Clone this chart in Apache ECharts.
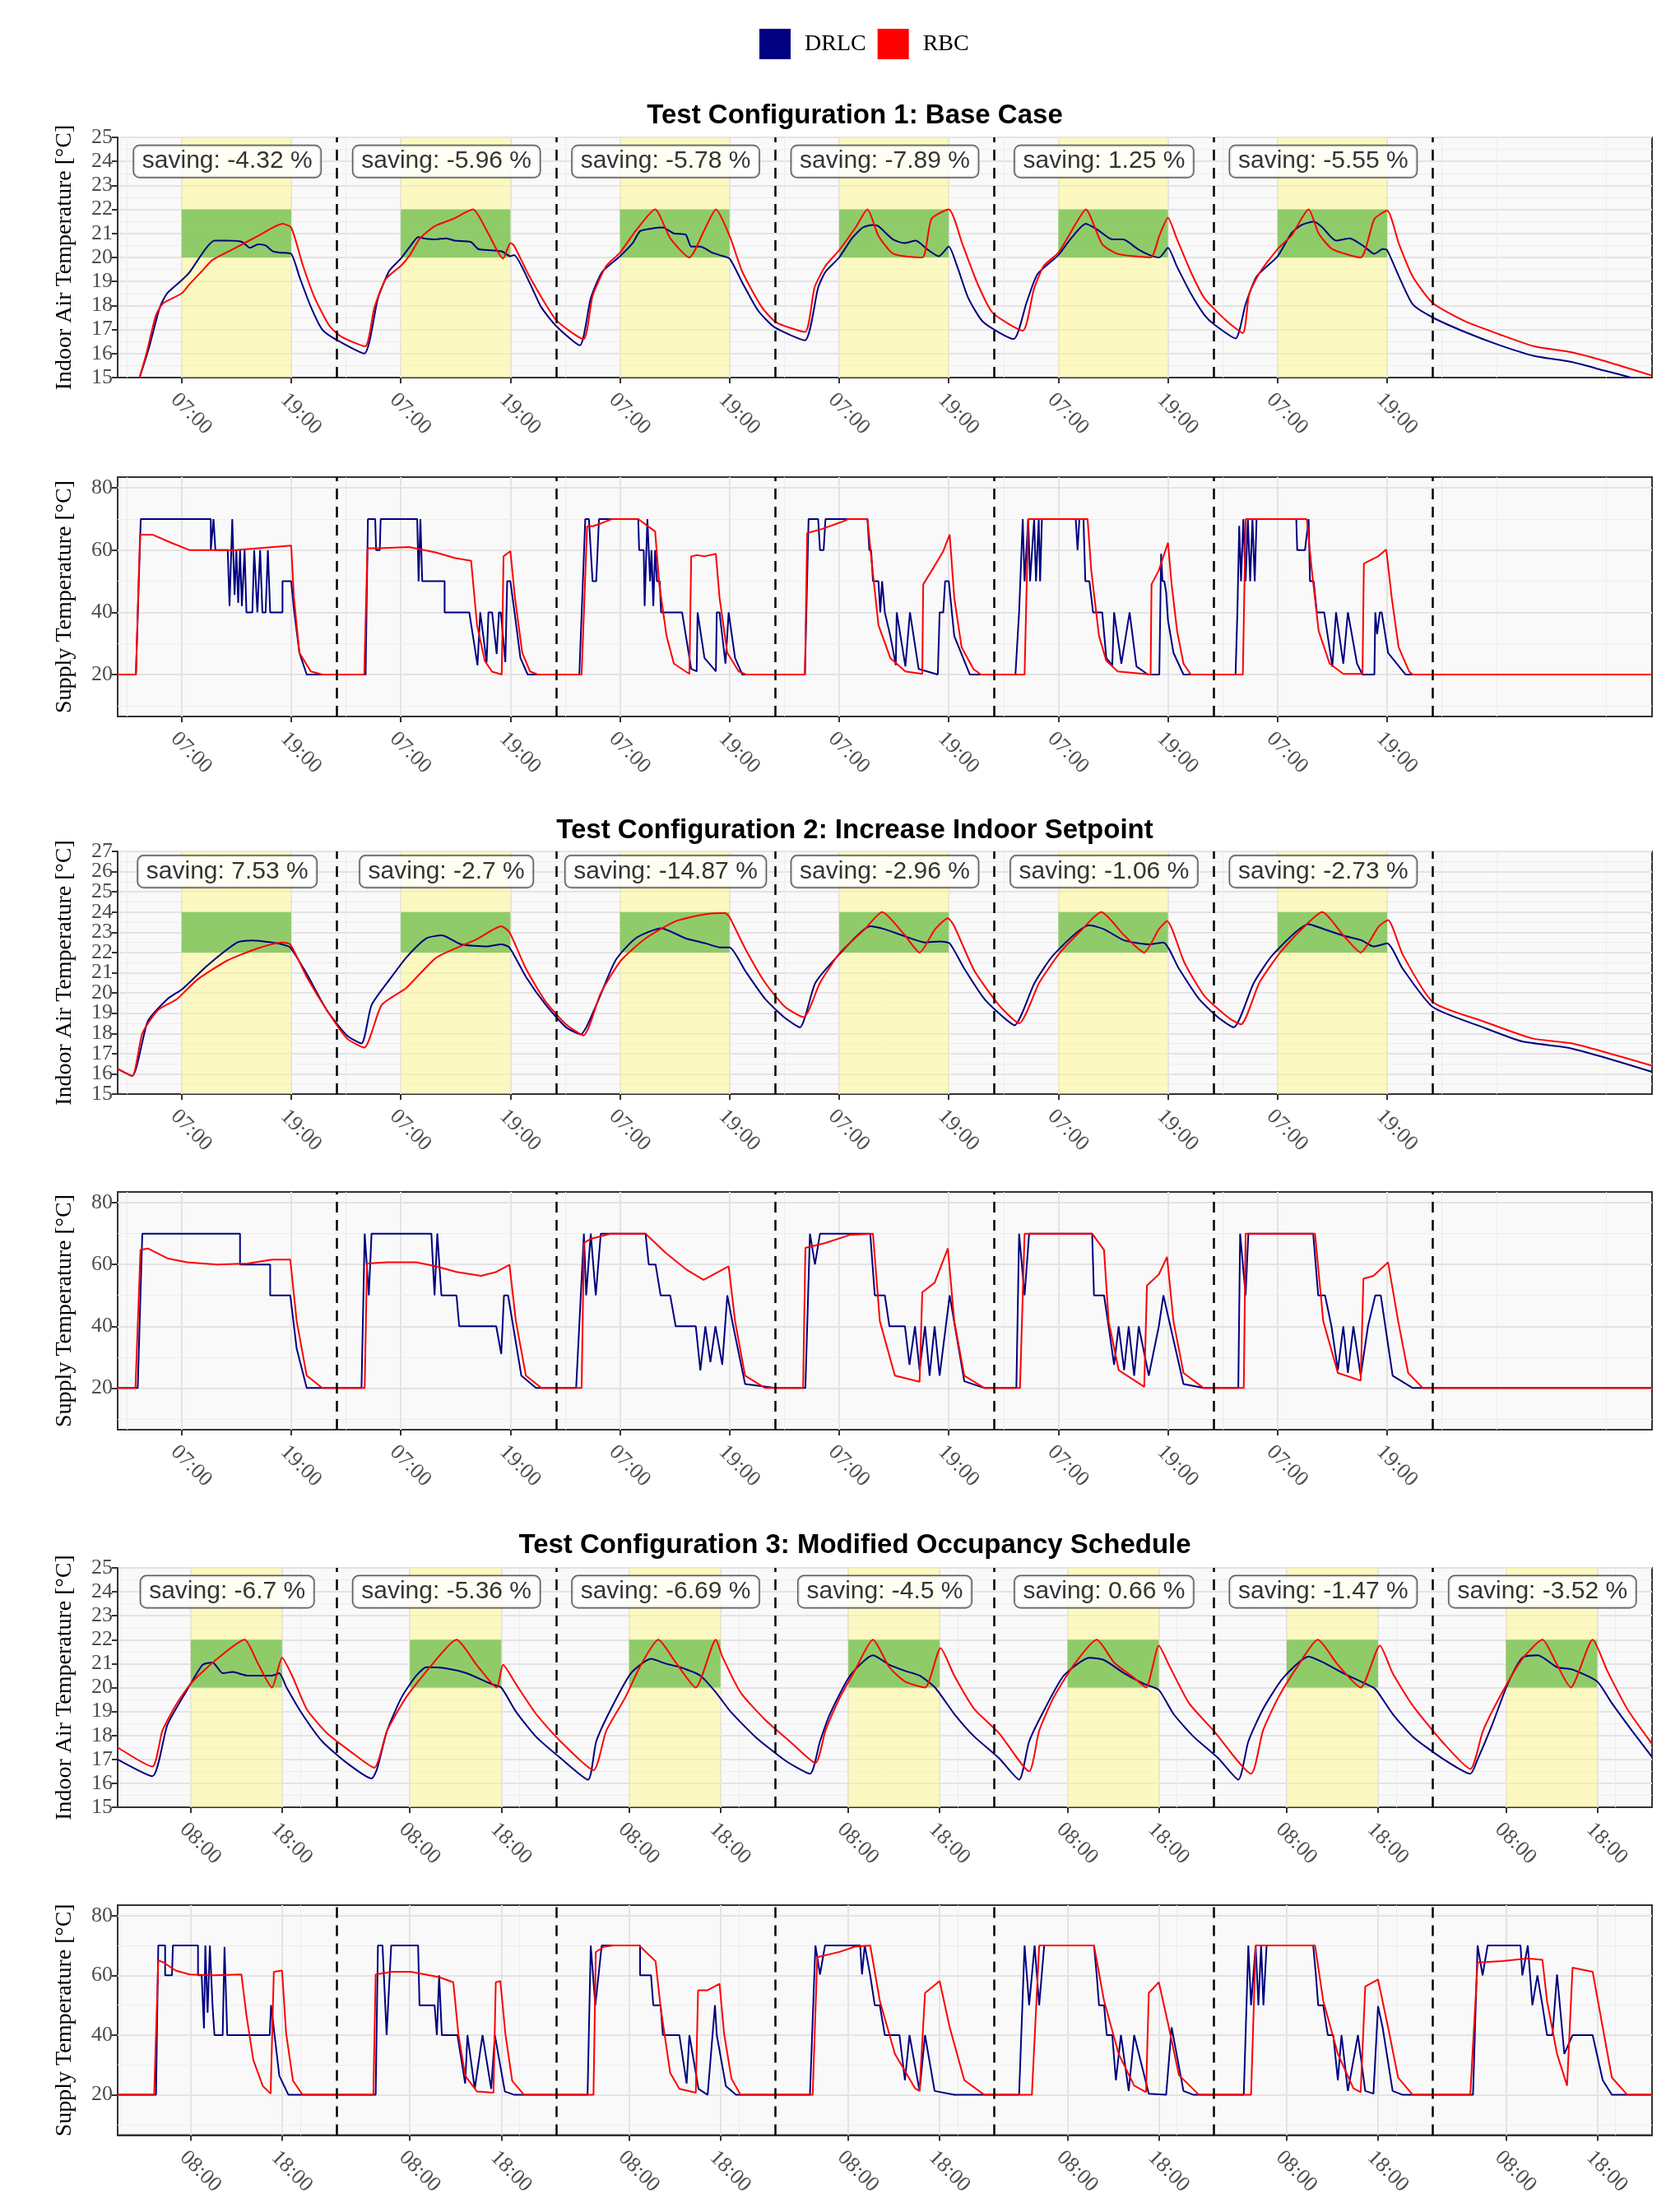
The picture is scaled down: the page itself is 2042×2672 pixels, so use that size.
<!DOCTYPE html>
<html lang="en">
<head>
    <meta charset="UTF-8">
    <title>DRLC vs RBC</title>
    <script src="https://cdn.jsdelivr.net/npm/echarts@6/dist/echarts.min.js"></script>
    <style>body{margin:0;background:#fff;}</style>
</head>
<body>
    <div id="main" style="width: 2042px;height:2672px;"></div>
    <script type="text/javascript">
        // hours since start of week, values in degC

        // ---- Test configuration 1 ----
        const c1InDRLC = [[2.4,15],[3.4,16.2],[4.6,17.9],[5.4,18.5],[7,19.05],[7.9,19.4],[9.6,20.35],[10.6,20.7],[12,20.7],[13.6,20.65],[14.5,20.4],[15.4,20.55],[16.2,20.5],[17,20.25],[17.8,20.2],[19,20.15],[19.9,19.2],[21.15,17.95],[22.4,17.0],[24.05,16.55],[27.0,16.0],
            [28.5,18.3],[29.75,19.45],[31,19.95],[32,20.45],[32.9,20.85],[33.5,20.8],[34.8,20.75],[36,20.8],[36.9,20.7],[38.65,20.65],[39.5,20.35],[40.9,20.3],[42.1,20.25],[43,20.05],[43.4,20.1],[45.1,18.95],[46.35,17.95],[48,17.15],[50.6,16.34],
            [51.8,18.3],[53.05,19.4],[55,20.05],[56.4,20.6],[57.2,21.1],[58.4,21.2],[59.7,21.25],[60.9,21.0],[62.2,20.95],[62.8,20.45],[63.8,20.45],[65.1,20.2],[65.9,20.1],[67,19.95],[68.4,18.95],[70.1,17.8],[71.9,17.1],[75.25,16.55],
            [76.7,18.75],[77.5,19.4],[79,20.0],[80.4,20.8],[81.6,21.25],[82.65,21.35],[83.3,21.3],[84.9,20.75],[86.1,20.6],[87.4,20.7],[88.6,20.35],[89.9,20.05],[91,20.45],[91.9,19.65],[93.15,18.3],[94.8,17.3],[98.1,16.6],
            [99.5,18.1],[100.7,19.3],[103,20.1],[104.4,20.8],[106,21.4],[107.3,21.15],[108.9,20.75],[110.1,20.75],[111.7,20.35],[113,20.1],[114.05,20.0],[115,20.4],[115.95,19.65],[117.5,18.5],[119,17.6],[120.1,17.2],[122.4,16.63],
            [123.5,18.05],[124.7,19.2],[127,20.05],[128.5,21.0],[129.6,21.35],[131,21.5],[131.9,21.25],[133.4,20.7],[134.9,20.8],[136.5,20.45],[137.6,20.15],[138.5,20.35],[139,20.3],[140.3,19.2],[141.8,18.05],[144,17.5],[147.5,16.9],[151.3,16.35],[155.1,15.9],[159.2,15.65],[162.7,15.3],[165.7,15.0],[166.5,14.9]];
        const c1InRBC = [[2.4,15],[3.15,16.0],[4.2,17.6],[5.0,18.1],[7,18.5],[7.9,18.9],[9.15,19.4],[10.4,19.9],[12.9,20.4],[15.4,20.9],[18.05,21.4],[19,21.25],[20.3,19.65],[21.6,18.3],[23.2,17.15],[24.5,16.7],[27.1,16.3],
            [28.1,17.9],[29.35,19.1],[31,19.65],[32,20.1],[33.1,20.8],[34.7,21.3],[36.7,21.6],[38.9,22.0],[40.5,21.05],[42.2,19.95],[43,20.6],[43.4,20.5],[45.1,19.2],[48,17.4],[51,16.6],
            [52,18.4],[53.5,19.65],[55,20.2],[56.8,21.15],[58.85,22.0],[60.5,20.8],[62.6,20.0],[64.25,21.15],[65.5,22.0],[67,20.9],[68.4,19.4],[70.5,17.95],[72.1,17.3],[75.25,16.9],
            [76.3,18.75],[77.5,19.65],[79,20.3],[80.8,21.25],[82.1,22.0],[83.3,20.9],[84.95,20.15],[88.1,20.0],[89.1,21.6],[91,22.0],[92.5,20.55],[94.1,18.95],[95.8,17.7],[99.1,16.95],
            [100.3,18.65],[101.4,19.65],[103,20.2],[104.9,21.4],[106,22.0],[107.8,20.55],[109.5,20.15],[113.1,20.0],[114.05,20.9],[115,21.65],[115.95,20.8],[117.5,19.4],[119,18.3],[121.3,17.4],[123.2,16.85],
            [123.9,18.5],[125.1,19.4],[127,20.35],[128.5,20.9],[130.4,22.0],[131.5,21.0],[133,20.35],[136.1,20.0],[137.6,21.6],[139,21.95],[140.3,20.55],[141.8,19.2],[144,18.1],[147.5,17.35],[151.3,16.8],[155.1,16.3],[159.2,16.05],[162.7,15.7],[168,15.08]];
        const c1SupDRLC = [[0,20],[2.0,20],[2.53,70],[10.2,70],[10.2,60],[10.5,70],[10.7,60],[12.05,60],[12.25,42],[12.55,70],[12.8,45.6],[13,60],[13.2,43],[13.4,60],[13.6,42],[13.9,60],[14.1,40],[14.75,40],[14.95,60],[15.3,40],[15.6,60],[15.85,40],[16.2,40],[16.45,60],[16.7,40],[18.05,40],[18.05,50],[19,50],[19.3,41],[19.9,27],[20.7,20],
            [27.15,20],[27.4,70],[28.2,70],[28.3,60],[28.7,60],[28.8,70],[32.8,70],[32.95,50],[33.15,70],[33.35,50],[35.8,50],[35.8,40],[38.5,40],[39.4,23],[39.7,40],[40.4,24],[40.6,40],[41,40],[41.5,26.6],[41.75,40],[41.95,40],[42.45,24],[42.65,50],[43,50],[43.5,39],[44.1,25.3],[44.9,20],
            [50.55,20],[51.2,70],[51.6,70],[52,50],[52.4,50],[52.7,70],[57,70],[57.1,60],[57.6,60],[57.7,42],[58,70],[58.3,50],[58.45,60],[58.65,42],[58.85,60],[59.05,50],[59.35,50],[59.5,40],[61.8,40],[62.8,21.8],[63.4,21],[63.5,40],[64.25,25.3],[65.5,21],[65.6,40],[65.9,40],[66.55,23.5],[66.9,40],[67.6,25.3],[68.4,20],
            [75.25,20],[75.65,70],[76.7,70],[76.9,60],[77.3,60],[77.5,70],[82.1,70],[82.3,60],[82.5,60],[82.7,50],[83.3,50],[83.5,40],[83.7,50],[84,40],[84.6,32.4],[85.2,23],[85.3,40],[86.25,22.6],[86.75,40],[87.7,21.8],[89.8,20],[90,40],[90.4,40],[90.6,50],[91,50],[91.6,32.4],[93.3,20],
            [98.3,20],[98.7,40],[99.1,70],[99.3,50],[99.7,70],[99.9,50],[100.35,70],[100.55,50],[100.85,70],[101,50],[101.2,70],[104.9,70],[105.1,60],[105.3,70],[105.75,70],[105.95,50],[106.4,50],[106.8,40],[107.8,40],[108.25,25.3],[108.9,23],[109.1,40],[109.9,23.5],[110.8,40],[111.55,22.6],[112.8,20],[114.05,20],[114.25,58.8],[114.4,50],[114.6,50],[114.8,46.5],[115,37.5],[115.6,27],[116.7,20],
            [122.4,20],[122.6,40],[122.8,67.8],[123,50],[123.25,70],[123.5,50],[123.75,70],[124,50],[124.25,70],[124.5,50],[124.7,70],[129.05,70],[129.15,60],[130,60],[130.4,70],[130.55,50],[130.95,50],[131.3,40],[132.1,40],[133,22.5],[133.4,40],[134.2,23.5],[134.7,40],[135.7,23.5],[136.3,20],[137.6,20],[137.7,40],[137.9,33],[138.2,40],[138.4,40],[139.1,27],[141,20],[168,20]];
        const c1SupRBC = [[0,20],[2.0,20],[2.45,65],[3.8,65],[5.85,62.4],[7.9,60],[12.9,60],[16.2,60.8],[19,61.5],[19.3,44.7],[19.9,27],[21.15,21],[22.4,20],
            [27.0,20],[27.35,60.6],[28.6,60.6],[31.9,61],[34.8,59.3],[36.9,57.5],[38.7,56.6],[39.35,35.9],[40.2,24.4],[41,20.9],[42.05,20],[42.25,58],[43,59.7],[43.5,44.7],[44.3,27],[45.15,21],[46,20],
            [50.8,20],[51.4,67.7],[52,67.7],[53,68.7],[54.1,70],[57,70],[58.85,66],[59.3,49.1],[60.1,32.4],[60.9,23.5],[62.6,20.2],[62.8,58],[63.4,58.4],[64.25,58],[65.5,58.8],[65.9,44.7],[66.75,27],[68,21],[68.8,20],
            [75.25,20],[75.5,65.5],[77.1,66.8],[79.2,69],[80,70],[82.1,70],[82.5,58],[83.3,35.9],[84.6,25.3],[86.25,21],[88.1,20.2],[88.2,49],[89.15,53.5],[90.4,59.7],[91.1,65],[91.6,44.7],[92.4,28.8],[93.7,21.8],[94.5,20],
            [99.3,20],[99.7,70],[106.2,70],[106.6,53.5],[107.45,32.4],[108.25,24.4],[109.5,21],[113.1,20],[113.2,49],[114,53.5],[115,62.4],[115.4,49],[116,34],[116.7,23.5],[117.5,20],
            [123.2,20],[123.5,70],[130.2,70],[130.75,53.5],[131.5,34],[132.7,23.5],[134.2,20.2],[136.3,20.2],[136.45,55.7],[138,58],[138.9,60.2],[139.5,44.7],[140.25,28.8],[141.4,21],[141.8,20],[168,20]];

        // ---- Test configuration 2 ----
        const c2InDRLC = [[0,16.25],[1.6,15.9],[3.3,18.6],[5.45,19.7],[7.1,20.2],[9.8,21.35],[13.1,22.5],[14.7,22.6],[16.9,22.5],[18,22.4],[18.9,22.25],[20.7,20.95],[22.9,19.15],[25.1,17.9],[26.7,17.5],
            [27.8,19.4],[30,20.8],[31.6,21.75],[33.8,22.7],[35.5,22.85],[37.6,22.4],[40.4,22.3],[42,22.4],[42.9,22.25],[44.7,20.8],[46.9,19.4],[49.1,18.3],[50.7,17.95],
            [52.4,19.4],[54.5,21.6],[56.7,22.7],[59.5,23.2],[62.2,22.7],[64.4,22.45],[66,22.25],[67,22.25],[68.7,21.1],[70.9,19.7],[73.1,18.75],[74.7,18.3],
            [76.4,20.5],[79.1,21.95],[82.4,23.3],[84,23.15],[86.2,22.8],[88.4,22.5],[90,22.55],[91.1,22.45],[92.7,21.2],[94.9,19.7],[97.1,18.75],[98.2,18.4],
            [100.4,20.5],[102.5,21.9],[106.4,23.35],[108,23.15],[110.2,22.6],[112.9,22.4],[114.5,22.5],[116.2,21.2],[118.4,19.7],[120.6,18.75],[122.2,18.3],
            [124.4,20.5],[126.5,21.9],[130.4,23.4],[131.5,23.25],[134.1,22.85],[136.2,22.6],[137.5,22.3],[139,22.45],[140.7,21.2],[144,19.3],[149.5,18.3],[153.8,17.6],[158.7,17.3],[162.5,16.85],[168,16.1]];
        const c2InRBC = [[0,16.25],[1.6,15.9],[2.7,18.0],[4.4,19.15],[6.5,19.7],[8.7,20.65],[12,21.6],[15.3,22.2],[18,22.5],[18.9,22.4],[20.7,20.8],[22.9,19.15],[25.1,17.75],[27,17.3],
            [28.9,19.4],[31.6,20.25],[34.9,21.75],[39.3,22.65],[42,23.3],[42.9,23.0],[44.7,21.2],[46.9,19.55],[49.1,18.45],[51,17.9],
            [52.9,20.0],[55.1,21.6],[57.8,22.7],[61.1,23.55],[64.4,23.9],[66.5,23.95],[67,23.75],[68.7,22.2],[70.9,20.5],[73.1,19.3],[75.1,18.8],
            [76.9,20.5],[79.1,22.0],[81.8,23.15],[83.7,24.0],[86.2,22.85],[87.8,22.0],[89.5,23.15],[90.9,23.7],[91.6,23.3],[93.8,21.1],[96.5,19.4],[98.7,18.5],
            [100.9,20.5],[103.1,21.95],[105.3,23.0],[107.7,24.0],[110.2,22.85],[112.4,22.0],[114,23.15],[114.9,23.55],[116.8,21.5],[119,19.85],[121.7,18.75],[123,18.45],
            [125,20.5],[127.2,21.95],[129.3,23.0],[131.9,24.0],[134.2,22.85],[136.1,22.0],[138.1,23.3],[139.1,23.6],[140.7,21.9],[144,19.55],[149.5,18.6],[154.9,17.75],[159.3,17.5],[168,16.4]];
        const c2SupDRLC = [[0,20],[2.2,20],[2.7,70],[13.4,70],[13.4,60],[16.7,60],[16.7,50],[18.9,50],[19.6,32.8],[20.7,20],
            [26.7,20],[27.05,70],[27.5,50],[27.8,70],[34.35,70],[34.7,50],[35,70],[35.45,50],[37.1,50],[37.4,40],[41.2,40],[41.45,40],[42,31],[42.3,50],[42.75,50],[44.2,24],[45.8,20],
            [50.2,20],[51.05,70],[51.3,50],[51.8,70],[52.35,50],[52.9,70],[57.8,70],[58.15,60],[58.9,60],[59.45,50],[60.5,50],[61.1,40],[63.3,40],[63.8,25.7],[64.35,40],[64.9,28.4],[65.45,40],[66.2,27.5],[66.75,50],[67.4,40],[68.7,21.3],[72,20],
            [75.3,20],[75.8,70],[76.35,60],[76.9,70],[82.4,70],[82.9,50],[84,50],[84.5,40],[86.2,40],[86.7,27.5],[87.3,40],[87.8,25.8],[88.4,40],[88.9,24],[89.45,40],[90,24],[91.1,50],[92.7,22.2],[94.9,20],
            [98.4,20],[98.7,70],[99.3,50],[99.8,70],[106.7,70],[106.9,50],[108,50],[108.5,40],[109.1,27.5],[109.6,40],[110.2,25.8],[110.7,40],[111.3,24],[111.8,40],[112.9,24],[114,40],[114.5,50],[116.7,21.3],[118.9,20],
            [122.7,20],[122.9,70],[123.5,50],[123.8,70],[130.9,70],[131.45,50],[132.2,50],[132.9,40],[133.6,25.8],[134.2,40],[134.7,24.9],[135.3,40],[136.1,24],[136.9,40],[137.7,50],[138.3,50],[139.6,24],[141.8,20],[168,20]];
        const c2SupRBC = [[0,20],[1.95,20],[2.5,64.7],[3.3,65.2],[5.45,62],[7.6,60.7],[10.9,60],[14.2,60.3],[16.9,61.6],[18.9,61.6],[19.6,41.7],[20.7,24],[22.4,20],
            [27.05,20],[27.3,60.3],[29.5,60.7],[32.7,60.7],[34.9,59.4],[37.1,57.6],[39.8,56.3],[41.45,57.6],[42.9,59.9],[43.6,41.7],[44.7,24],[46.4,20],
            [50.8,20],[51.05,67],[51.8,68.3],[54,70],[57.8,70],[60,63.8],[62.2,58.5],[64.15,55],[66.9,59.4],[67.6,41.7],[68.7,24],[70.9,20],
            [75.05,20],[75.3,65.4],[77.5,67],[80.2,69.6],[82.7,70],[83.45,41.7],[85.1,24],[87.8,22],[88.1,51],[89.45,54.1],[90.9,65.2],[91.6,41.7],[92.7,24],[94.9,20],
            [98.8,20],[99.3,70],[106.7,70],[108,64.7],[108.5,41.7],[109.6,25.8],[112.4,20.4],[112.7,53.2],[114,56.8],[114.9,62.5],[115.6,41.7],[116.7,24.9],[118.9,20],
            [123.3,20],[123.5,70],[131.1,70],[132,41.7],[133.6,24.9],[136.1,22.4],[136.4,55.4],[137.5,56.3],[139.1,60.7],[140.2,41.7],[141.3,24.9],[142.9,20],[168,20]];

        // ---- Test configuration 3 ----
        const c3InDRLC = [[0,17.0],[3.8,16.3],[5.45,18.45],[7.6,19.9],[9.3,20.95],[10.4,21.05],[11.5,20.6],[12.6,20.65],[14.2,20.5],[16.9,20.5],[17.7,20.6],[18.5,20.0],[20.2,18.9],[22.4,17.75],[25.1,16.85],[27.8,16.2],
            [28.4,16.6],[29.5,18.2],[31.1,19.6],[32.7,20.5],[33.8,20.85],[36,20.8],[38.2,20.6],[40.9,20.15],[42,20.0],[43.6,19.0],[45.8,17.95],[48.5,17.05],[51.5,16.15],
            [52.4,17.75],[54,19.1],[56.2,20.6],[58.4,21.2],[60,21.0],[61.6,20.85],[63.8,20.5],[65.5,19.8],[67.1,19.0],[69.8,17.95],[73.1,16.95],[75.8,16.4],
            [76.9,17.75],[78,18.9],[80.2,20.5],[82.7,21.35],[84.5,20.95],[86.2,20.7],[87.8,20.5],[89.5,20.0],[91.6,18.9],[93.8,17.95],[96.5,17.05],[98.7,16.15],
            [99.8,17.75],[101.5,19.1],[103.6,20.5],[106.4,21.25],[108,21.15],[110.2,20.6],[112.4,20.15],[114,19.9],[115.6,18.9],[117.8,17.95],[120.5,17.05],[122.7,16.15],
            [123.8,17.75],[125.4,19.1],[127.6,20.4],[130.4,21.3],[132,21.05],[134.2,20.6],[137.5,20.0],[138,19.8],[139.6,18.9],[141.8,17.95],[145,17.05],[148.1,16.4],
            [148.9,17.0],[150.5,18.45],[152.2,20.15],[153.8,21.25],[155.5,21.35],[157.6,20.85],[159.3,20.75],[162,20.25],[163.6,19.35],[165.8,18.2],[168,17.1]];
        const c3InRBC = [[0,17.5],[3.8,16.7],[4.9,18.2],[6.5,19.35],[8.2,20.25],[10.9,21.2],[13.9,22.0],[15.3,21.05],[16.9,20.0],[18,21.25],[19.1,20.5],[20.7,19.1],[22.9,18.1],[25.6,17.3],[28.1,16.65],
            [29.5,18.2],[31.6,19.6],[34.4,20.95],[37.1,22.0],[39.3,20.95],[41.5,20.0],[42.2,20.95],[43.6,20.15],[45.8,18.9],[48.5,17.75],[52.1,16.55],
            [53.5,18.2],[55.6,19.6],[57.3,20.95],[59.2,22.0],[61.1,21.05],[63.3,20.0],[65.5,22.0],[66.2,21.3],[68.2,19.8],[70.9,18.65],[73.6,17.75],[76.4,16.85],
            [77.5,18.2],[79.1,19.6],[80.7,20.7],[82.7,22.0],[84.5,20.85],[86.2,20.25],[88.4,20.0],[90.1,21.65],[91.6,20.5],[93.8,19.1],[96.5,18.1],[99.8,16.5],
            [100.9,18.2],[102.5,19.6],[104.7,20.95],[107.2,22.0],[109.1,21.05],[111.3,20.4],[112.6,20.0],[114,21.75],[115.1,20.95],[117.3,19.35],[120,18.2],[124.1,16.4],
            [125.4,18.2],[127.1,19.6],[129.3,20.95],[131.4,22.0],[133.6,20.95],[136.1,20.0],[138.2,21.75],[139.6,20.6],[141.8,19.25],[145,17.75],[148.1,16.6],
            [149.5,18.2],[151.6,19.8],[153.8,21.2],[156,22.0],[157.6,20.95],[159.1,20.0],[161.5,22.0],[163.1,20.7],[165.3,19.1],[168,17.65]];
        const c3SupDRLC = [[0,20],[4.2,20],[4.45,70],[5.2,70],[5.2,60],[5.95,60],[6.05,70],[8.8,70],[8.8,60],[9.2,60],[9.45,42.3],[9.6,70],[9.85,47.5],[10.1,70],[10.4,49.3],[10.6,40],[11.5,40],[11.7,69.5],[12,40],[16.65,40],[16.8,50],[17.7,26.4],[18.7,20],
            [28.25,20],[28.5,70],[29,70],[29.45,40],[29.95,70],[32.9,70],[33.05,50],[34.7,50],[34.95,40],[35.2,60],[35.5,40],[37.2,40],[38.05,23.8],[38.3,40],[39.1,22],[39.95,40],[40.9,22],[41.3,40],[42.4,21.1],[43.45,20],
            [51.45,20],[51.8,70],[52.3,50],[53,70],[57.2,70],[57.2,60],[58.4,60],[58.65,50],[59.45,50],[59.7,40],[61.5,40],[62.3,23.8],[62.6,40],[63.6,22],[64.6,20],[65.4,50],[65.6,40],[66.6,22.9],[67.7,20],
            [75.8,20],[76.4,70],[76.9,60.3],[77.45,70],[81.3,70],[81.5,60.3],[81.8,70],[82.4,60],[82.9,50],[83.45,50],[84,40],[85.6,40],[86.2,24.9],[86.7,40],[87.8,21.3],[88.4,40],[89.45,21.3],[91.6,20],
            [98.7,20],[99.3,70],[99.8,50],[100.4,70],[100.9,50],[101.45,70],[106.9,70],[107.2,60],[107.45,50],[108,50],[108.3,40],[108.9,40],[109.3,24.9],[109.85,40],[110.7,21.3],[111.3,40],[112.9,20.4],[114.8,20],[115.4,42.6],[116.7,21.3],[117.8,20],
            [123.3,20],[123.8,70],[124.1,50],[124.6,70],[124.9,50],[125.2,70],[125.45,50],[125.8,70],[130.9,70],[131.2,60],[131.45,50],[132,50],[132.5,40],[133.1,40],[133.6,24.9],[134,40],[134.7,21.3],[135.8,40],[136.6,21.3],[137.5,20.4],[138,49.7],[138.5,42.6],[139.6,21.3],[140.7,20],
            [148.4,20],[148.9,70],[149.45,60],[150,70],[153.6,70],[153.8,60],[154.4,70],[154.9,50],[155.45,60],[156,50],[156.5,40],[157.1,40],[157.6,60.3],[158.4,33.7],[159.3,40],[161.5,40],[162.6,24.9],[163.6,20],[168,20]];
        const c3SupRBC = [[0,20],[4.0,20],[4.45,65],[5.05,64.3],[6.35,61.6],[7.9,60.3],[10.5,60],[13.55,60.3],[14.1,46.7],[14.85,31.7],[15.9,22.9],[16.75,20.4],[17.1,61.2],[18,61.6],[18.45,40.5],[19.2,24.7],[20.25,20],
            [28,20],[28.25,60.3],[30.05,61.2],[32.1,61.2],[35.2,59.4],[36.75,57.7],[37.3,40.5],[38.05,26.4],[39.35,21.1],[41.15,20.7],[41.4,57.7],[41.9,58.1],[42.45,40.5],[43.2,24.7],[44.5,20],
            [52.1,20],[52.35,67.8],[53.25,69.6],[54.3,70],[57.1,70],[58.9,64.7],[59.45,49.3],[60.5,27.3],[61.5,22],[63.3,20.7],[63.55,55],[64.6,55],[65.9,57.2],[66.4,40.5],[67.2,25.5],[68.2,20],
            [76.1,20],[76.6,66.1],[79.1,67.9],[80.7,69.6],[82.4,70],[83.45,51.5],[85.1,33.7],[87.3,22.2],[87.8,21.3],[88.4,54.1],[90,58.1],[91.1,42.6],[92.7,24.9],[94.9,20],
            [100.1,20],[100.9,70],[106.9,70],[108,51.5],[109.6,33.7],[111.3,23.1],[112.6,20.9],[112.9,54.1],[114,57.7],[115.1,42.6],[116.2,26.6],[118.4,20],
            [124.1,20],[124.6,70],[131.1,70],[132,51.5],[133.6,33.7],[135.3,22.2],[136.1,20.9],[136.6,56.3],[138,58.6],[139.1,42.6],[140.2,25.8],[141.8,20],
            [148.1,20],[148.9,64.3],[151.6,64.8],[154.4,65.7],[156,65.2],[156.5,51.5],[157.6,33.7],[158.7,23.1],[159.3,62.6],[161.5,61.2],[162.6,42.6],[163.6,25.8],[165.3,20],[168,20]];

        // savings labels per day
        const savings1 = ['-4.32', '-5.96', '-5.78', '-7.89', '1.25', '-5.55'];
        const savings2 = ['7.53', '-2.7', '-14.87', '-2.96', '-1.06', '-2.73'];
        const savings3 = ['-6.7', '-5.36', '-6.69', '-4.5', '0.66', '-1.47', '-3.52'];

        // tick positions (hours) and extra grid lines
        const ticksA = [7, 19, 31, 43, 55, 67, 79, 91, 103, 115, 127, 139];
        const minorA = [1, 25, 49, 73, 97, 121, 145, 151, 163];
        const ticksB = [8, 18, 32, 42, 56, 66, 80, 90, 104, 114, 128, 138, 152, 162];
        const minorB = [20, 44, 68, 92, 116, 140, 164];
        const midnights = [24, 48, 72, 96, 120, 144];
        const supplyTicks = [20, 40, 60, 80];
        const supplyMinor = [10, 30, 50, 70];

        const SERIF = 'Liberation Serif';
        const SANS = 'Liberation Sans';
        const BLUE = '#000080';
        const RED = '#ff0000';

        const panels = [
            { top: 167, height: 292, kind: 'in', ymax: 25, drlc: c1InDRLC, rbc: c1InRBC, ticks: ticksA, minor: minorA, occ: [7, 19], days: 6, band: [20, 22], savings: savings1, labelY: 24 },
            { top: 580, height: 291, kind: 'sup', drlc: c1SupDRLC, rbc: c1SupRBC, ticks: ticksA, minor: minorA },
            { top: 1035, height: 295, kind: 'in', ymax: 27, drlc: c2InDRLC, rbc: c2InRBC, ticks: ticksA, minor: minorA, occ: [7, 19], days: 6, band: [22, 24], savings: savings2, labelY: 26 },
            { top: 1449, height: 289, kind: 'sup', drlc: c2SupDRLC, rbc: c2SupRBC, ticks: ticksA, minor: minorA },
            { top: 1906, height: 291, kind: 'in', ymax: 25, drlc: c3InDRLC, rbc: c3InRBC, ticks: ticksB, minor: minorB, occ: [8, 18], days: 7, band: [20, 22], savings: savings3, labelY: 24 },
            { top: 2316, height: 294, kind: 'sup', drlc: c3SupDRLC, rbc: c3SupRBC, ticks: ticksB, minor: minorB }
        ];

        const myChart = echarts.init(document.getElementById('main'));

        const grid = [], xAxis = [], yAxis = [], series = [];

        const hhmm = v => {
            const h = Math.round(v) % 24;
            return (h < 10 ? '0' : '') + h + ':00';
        };
        const yLabelStyle = { fontFamily: SERIF, fontSize: 26, color: '#4d4d4d', margin: 6, showMinLabel: true, showMaxLabel: true };

        panels.forEach((p, i) => {
            grid.push({
                left: 143, right: 34, top: p.top, height: p.height,
                show: true, backgroundColor: '#f9f9f9', borderColor: '#333', borderWidth: 2
            });
            xAxis.push({
                type: 'value', gridIndex: i, min: 0, max: 168,
                axisLine: { show: true, lineStyle: { color: '#333', width: 2 } },
                axisTick: { show: true, customValues: p.ticks, length: 7, lineStyle: { color: '#333', width: 2 } },
                axisLabel: {
                    customValues: p.ticks, formatter: hhmm, rotate: -45, margin: 14,
                    verticalAlign: 'top',
                    fontFamily: SERIF, fontSize: 26, color: '#4d4d4d'
                },
                splitLine: { show: false }
            });
            const yIdx = yAxis.length;
            if (p.kind === 'in') {
                // labels split over two axes (odd / even) so the dense ones are all kept
                const odd = [], even = [];
                for (let v = 15; v <= p.ymax; v++) (v % 2 ? odd : even).push(v);
                yAxis.push({
                    type: 'value', gridIndex: i, min: 15, max: p.ymax, interval: 1,
                    name: 'Indoor Air Temperature [°C]', nameLocation: 'middle', nameGap: 50,
                    nameTextStyle: { fontFamily: SERIF, fontSize: 28, color: '#000' },
                    axisLine: { show: true, lineStyle: { color: '#333', width: 2 } },
                    axisTick: { show: true, length: 7, lineStyle: { color: '#333', width: 2 } },
                    axisLabel: Object.assign({ customValues: odd }, yLabelStyle),
                    splitLine: { show: true, lineStyle: { color: '#e3e3e3', width: 2 } },
                    minorTick: { show: false, splitNumber: 2 },
                    minorSplitLine: { show: true, lineStyle: { color: '#ededed', width: 1 } }
                });
                yAxis.push({
                    type: 'value', gridIndex: i, min: 15, max: p.ymax, position: 'left', offset: 0,
                    axisLine: { show: false }, axisTick: { show: false }, splitLine: { show: false },
                    axisLabel: Object.assign({ customValues: even }, yLabelStyle)
                });
            } else {
                yAxis.push({
                    type: 'value', gridIndex: i, min: 6.5, max: 83.5,
                    name: 'Supply Temperature [°C]', nameLocation: 'middle', nameGap: 50,
                    nameTextStyle: { fontFamily: SERIF, fontSize: 28, color: '#000' },
                    axisLine: { show: true, lineStyle: { color: '#333', width: 2 } },
                    axisTick: { show: true, customValues: supplyTicks, length: 7, lineStyle: { color: '#333', width: 2 } },
                    axisLabel: { customValues: supplyTicks, fontFamily: SERIF, fontSize: 26, color: '#4d4d4d', margin: 6 },
                    splitLine: { show: false }
                });
            }

            // background grid lines (kept under the data)
            const gl = [];
            p.ticks.forEach(v => gl.push({ xAxis: v, lineStyle: { color: '#e3e3e3', width: 2, type: 'solid' } }));
            p.minor.forEach(v => gl.push({ xAxis: v, lineStyle: { color: '#ededed', width: 1, type: 'solid' } }));
            if (p.kind === 'sup') {
                supplyTicks.forEach(v => gl.push({ yAxis: v, lineStyle: { color: '#e3e3e3', width: 2, type: 'solid' } }));
                supplyMinor.forEach(v => gl.push({ yAxis: v, lineStyle: { color: '#ededed', width: 1, type: 'solid' } }));
            }
            series.push({
                type: 'line', name: 'grid' + i, xAxisIndex: i, yAxisIndex: yIdx, data: [], z: 1, silent: true,
                markLine: { z: 1, silent: true, symbol: ['none', 'none'], label: { show: false }, animation: false, data: gl }
            });

            // occupancy shading
            if (p.kind === 'in') {
                const areas = [];
                for (let d = 0; d < p.days; d++) {
                    areas.push([{ xAxis: d * 24 + p.occ[0], itemStyle: { color: 'rgba(255, 248, 140, 0.5)' } }, { xAxis: d * 24 + p.occ[1] }]);
                }
                for (let d = 0; d < p.days; d++) {
                    areas.push([{ xAxis: d * 24 + p.occ[0], yAxis: p.band[0], itemStyle: { color: 'rgba(125, 195, 90, 0.85)' } }, { xAxis: d * 24 + p.occ[1], yAxis: p.band[1] }]);
                }
                series.push({
                    type: 'line', name: 'occ' + i, xAxisIndex: i, yAxisIndex: yIdx, data: [], z: 2, silent: true,
                    markArea: { z: 2, silent: true, animation: false, data: areas }
                });
            }

            const smooth = p.kind === 'in' ? 0.2 : false;
            series.push({
                type: 'line', name: 'DRLC', xAxisIndex: i, yAxisIndex: yIdx, data: p.drlc, z: 3,
                showSymbol: false, smooth: smooth, color: BLUE, lineStyle: { color: BLUE, width: 2 }
            });
            series.push({
                type: 'line', name: 'RBC', xAxisIndex: i, yAxisIndex: yIdx, data: p.rbc, z: 3,
                showSymbol: false, smooth: smooth, color: RED, lineStyle: { color: RED, width: 2 }
            });

            // day separators
            series.push({
                type: 'line', name: 'sep' + i, xAxisIndex: i, yAxisIndex: yIdx, data: [], z: 4, silent: true,
                markLine: {
                    z: 4, silent: true, symbol: ['none', 'none'], label: { show: false }, animation: false,
                    lineStyle: { color: '#000', width: 2.5, type: [13, 9] },
                    data: midnights.map(v => ({ xAxis: v }))
                }
            });

            if (p.kind === 'in') {
                series.push({
                    type: 'scatter', name: 'sav' + i, xAxisIndex: i, yAxisIndex: yIdx, z: 5, silent: true,
                    symbolSize: 1, itemStyle: { color: 'rgba(0,0,0,0)' },
                    data: p.savings.map((s, d) => ({ value: [d * 24 + 12, p.labelY], name: 'saving: ' + s + ' %' })),
                    label: {
                        show: true, position: 'inside', formatter: '{b}',
                        fontFamily: SANS, fontSize: 30, color: '#000',
                        backgroundColor: '#fff', borderColor: '#333', borderWidth: 1.5, borderRadius: 7,
                        padding: [5, 10, 3, 10]
                    }
                });
            }
        });

        const titleFont = 'bold 33px "Liberation Sans"';
        const option = {
            animation: false,
            backgroundColor: '#fff',
            legend: {
                data: ['DRLC', 'RBC'], left: 918, top: 30, icon: 'rect',
                itemWidth: 38, itemHeight: 37, itemGap: 14,
                textStyle: { fontFamily: SERIF, fontSize: 28, color: '#000', padding: [0, 0, 0, 12] }
            },
            graphic: [
                { type: 'text', x: 1039, y: 141, style: { text: 'Test Configuration 1: Base Case', textAlign: 'center', textVerticalAlign: 'middle', font: titleFont, fill: '#000' } },
                { type: 'text', x: 1039, y: 1010, style: { text: 'Test Configuration 2: Increase Indoor Setpoint', textAlign: 'center', textVerticalAlign: 'middle', font: titleFont, fill: '#000' } },
                { type: 'text', x: 1039, y: 1879, style: { text: 'Test Configuration 3: Modified Occupancy Schedule', textAlign: 'center', textVerticalAlign: 'middle', font: titleFont, fill: '#000' } }
            ],
            grid: grid,
            xAxis: xAxis,
            yAxis: yAxis,
            series: series
        };

        myChart.setOption(option);
    </script>
</body>
</html>
